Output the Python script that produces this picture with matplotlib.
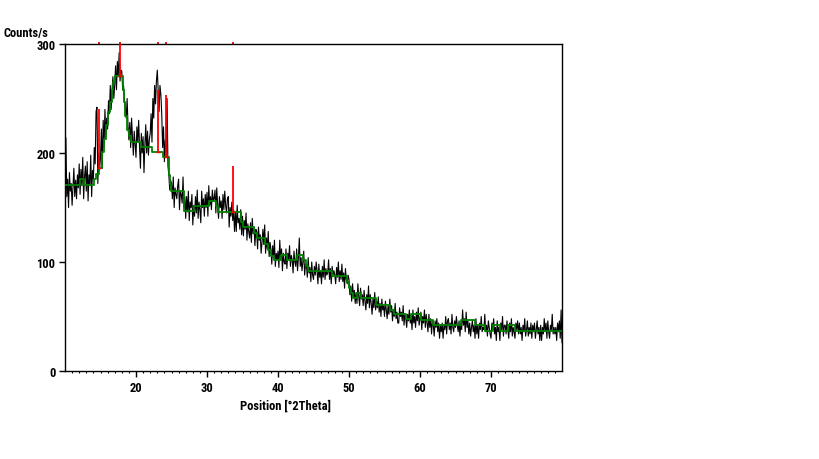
import numpy as np
import matplotlib
matplotlib.use("Agg")
import matplotlib.pyplot as plt
from matplotlib import font_manager as fm
from matplotlib.transforms import blended_transform_factory

# ---------------- data ----------------
x_start, x_step = 10.0, 0.125
counts = [
    125, 214, 160, 176, 150, 182, 165, 172,   # 10
    152, 170, 186, 160, 175, 158, 180, 168,   # 11
    190, 162, 185, 170, 196, 158, 178, 188,   # 12
    165, 192, 156, 180, 170, 198, 160, 184,   # 13
    176, 205, 190, 238, 242, 172, 200, 185,   # 14
    196, 222, 186, 230, 205, 240, 215, 232,   # 15
    222, 248, 236, 262, 240, 258, 270, 250,   # 16
    262, 280, 258, 284, 270, 292, 266, 276,   # 17
    275, 258, 262, 248, 240, 232, 250, 225,   # 18
    212, 228, 205, 232, 215, 198, 220, 208,   # 19
    196, 224, 210, 230, 205, 186, 218, 200,   # 20
    215, 182, 208, 226, 200, 220, 198, 212,   # 21
    218, 236, 210, 250, 232, 262, 245, 266,   # 22
    276, 258, 238, 262, 254, 236, 205, 224,   # 23
    192, 212, 198, 250, 188, 180, 166, 175,   # 24
    172, 158, 178, 150, 168, 162, 158, 170,   # 25
    176, 148, 165, 162, 154, 178, 150, 160,   # 26
    140, 160, 146, 165, 138, 155, 150, 162,   # 27
    134, 152, 142, 160, 145, 166, 140, 155,   # 28
    148, 136, 165, 150, 158, 142, 162, 150,   # 29
    164, 142, 170, 152, 160, 148, 166, 156,   # 30
    158, 166, 145, 168, 152, 140, 160, 150,   # 31
    156, 140, 162, 148, 165, 152, 145, 158,   # 32
    160, 132, 150, 142, 155, 138, 148, 128,   # 33
    146, 128, 152, 136, 140, 130, 148, 125,   # 34
    142, 124, 138, 130, 145, 120, 135, 128,   # 35
    122, 136, 118, 140, 126, 132, 115, 130,   # 36
    128, 112, 132, 120, 125, 108, 118, 130,   # 37
    116, 134, 108, 122, 112, 128, 105, 118,   # 38
    112, 98, 115, 104, 120, 96, 108, 102,     # 39
    110, 95, 120, 102, 112, 92, 108, 100,     # 40
    98, 112, 94, 108, 102, 115, 96, 106,      # 41
    102, 90, 110, 100, 96, 112, 92, 104,      # 42
    122, 96, 104, 92, 100, 110, 88, 98,       # 43
    98, 86, 104, 90, 95, 82, 100, 88,         # 44
    84, 96, 88, 100, 92, 80, 98, 86,          # 45
    92, 80, 96, 86, 102, 84, 94, 88,          # 46
    90, 102, 84, 94, 80, 96, 88, 92,          # 47
    88, 80, 95, 86, 100, 82, 92, 84,          # 48
    98, 82, 90, 76, 94, 84, 80, 88,           # 49
    84, 70, 78, 64, 80, 68, 74, 62,           # 50
    72, 62, 80, 68, 60, 76, 66, 70,           # 51
    60, 74, 64, 56, 70, 62, 78, 58,           # 52
    70, 62, 52, 66, 58, 72, 56, 64,           # 53
    58, 68, 54, 62, 50, 66, 56, 60,           # 54
    50, 64, 56, 48, 60, 52, 66, 54,           # 55
    60, 46, 56, 50, 62, 48, 54, 44,           # 56
    44, 58, 50, 54, 46, 60, 42, 52,           # 57
    48, 40, 52, 46, 56, 44, 50, 38,           # 58
    56, 44, 50, 40, 54, 46, 58, 42,           # 59
    48, 54, 38, 50, 44, 56, 40, 52,           # 60
    44, 36, 52, 40, 48, 34, 46, 42,           # 61
    32, 46, 40, 48, 36, 44, 30, 42,           # 62
    36, 44, 30, 42, 38, 50, 34, 46,           # 63
    48, 38, 44, 34, 52, 40, 36, 46,           # 64
    40, 50, 42, 36, 46, 32, 44, 38,           # 65
    56, 42, 48, 36, 54, 40, 46, 34,           # 66
    44, 32, 40, 46, 36, 42, 30, 48,           # 67
    34, 42, 30, 44, 38, 50, 36, 40,           # 68
    38, 52, 36, 42, 32, 46, 40, 34,           # 69
    30, 44, 38, 48, 34, 40, 28, 46,           # 70
    36, 40, 28, 44, 38, 50, 32, 42,           # 71
    42, 34, 46, 38, 30, 44, 36, 48,           # 72
    32, 40, 36, 30, 44, 38, 46, 34,           # 73
    44, 34, 40, 28, 42, 36, 48, 32,           # 74
    38, 46, 32, 40, 34, 44, 30, 42,           # 75
    36, 44, 30, 38, 46, 34, 40, 28,           # 76
    42, 28, 40, 34, 48, 36, 44, 30,           # 77
    46, 36, 30, 42, 38, 52, 34, 40,           # 78
    34, 40, 28, 44, 36, 46, 30, 56,           # 79
    26,                                       # 80
]

# background (green step line): start positions and levels
bg_x = [10.0, 12.17, 12.68, 14.08, 14.32, 14.79, 15.27, 15.5, 15.75, 16.0, 16.27, 16.55,
        16.76, 17.0, 18.17, 18.34, 18.5, 18.79, 18.97, 19.25, 20.76, 22.25, 23.8, 24.69,
        24.8, 24.93, 26.76, 28.22, 30.34, 31.27, 31.6, 34.85, 35.03, 36.68, 37.0, 38.17,
        38.55, 39.01, 39.49, 40.42, 41.22, 42.63, 43.58, 43.9, 44.28, 47.66, 49.77, 50.0,
        50.24, 50.56, 51.18, 51.65, 53.76, 55.73, 56.37, 58.09, 58.7, 60.2, 61.83, 65.83,
        67.7, 69.18, 70.28, 71.22, 72.39, 73.34, 80.0]
bg_y = [170.8, 176.3, 170.8, 176.3, 180.9, 186.4, 200.8, 213.0, 225.3, 237.5, 246.7, 257.4,
        265.1, 270.6, 257.4, 246.7, 234.4, 220.7, 216.0, 210.0, 205.4, 200.8, 196.2, 180.0,
        172.0, 165.0, 146.5, 151.5, 155.6, 151.0, 145.7, 137.0, 132.0, 127.0, 122.1, 116.5,
        111.1, 105.9, 101.9, 106.5, 101.9, 106.5, 101.9, 96.7, 91.5, 87.0, 82.0, 76.0,
        71.3, 66.8, 71.3, 66.8, 60.9, 56.3, 52.0, 47.5, 52.3, 47.1, 42.2, 47.1,
        42.2, 37.0, 42.2, 37.0, 42.2, 37.0, 37.0]

# reference peak markers (red)
peak_pos = [14.79, 17.75, 23.12, 24.2, 33.66]
peak_base = [186.4, 270.6, 200.8, 196.0, 145.7]
peak_top = [240.0, 300.0, 257.4, 253.4, 188.0]

x_ticks = [20, 30, 40, 50, 60, 70]
y_ticks = [0, 100, 200, 300]

# ---------------- fonts: bold, upright, narrow ----------------
def is_bold(f):
    w = f.weight
    return (isinstance(w, int) and w >= 600) or w in ("bold", "semibold", "demibold", "heavy")

cands = [f for f in fm.fontManager.ttflist if f.style == "normal" and is_bold(f)
         and f.stretch not in ("normal", 500)
         and ("Narrow" in f.name or "Condensed" in f.name or "Condensed" in f.fname
              or "Narrow" in f.fname)]
pref = ["Liberation Sans Narrow", "Roboto Condensed", "DejaVu Sans"]
narrow = None
for p in pref:
    for f in cands:
        if f.name == p and "Italic" not in f.fname and "Oblique" not in f.fname:
            narrow = f.fname
            break
    if narrow:
        break
if narrow is None:
    for f in cands:
        if "Italic" not in f.fname and "Oblique" not in f.fname:
            narrow = f.fname
            break
if narrow:
    fp = fm.FontProperties(fname=narrow, size=9)
else:
    fp = fm.FontProperties(family="Liberation Sans", weight="bold", size=8)

fig = plt.figure(figsize=(8.19, 4.60), dpi=100)
ax = fig.add_axes([65 / 819, 88 / 460, 497 / 819, 327 / 460])

xs = x_start + x_step * np.arange(len(counts))
ax.plot(xs, counts, color="black", lw=0.8, zorder=2)
ax.plot(bg_x, bg_y, drawstyle="steps-post", color="#008000", lw=1.3, zorder=3)
ax.vlines(peak_pos, peak_base, peak_top, colors="red", lw=1.3, zorder=4)
ax.hlines(peak_base, [p - 0.3 for p in peak_pos], [p + 0.3 for p in peak_pos],
          colors="red", lw=1.0, zorder=4)
trans = blended_transform_factory(ax.transData, ax.transAxes)
ax.vlines(peak_pos, 1.0, 1.006, colors="red", lw=1.3, transform=trans, clip_on=False)

ax.set_xlim(10, 80)
ax.set_ylim(0, 300)
ax.set_xticks(x_ticks)
ax.set_xticks(np.arange(11, 80, 1), minor=True)
ax.set_yticks(y_ticks)
ax.tick_params(axis="both", which="major", direction="out", length=4, width=1, pad=3)
ax.tick_params(axis="x", which="minor", direction="out", length=1.5, width=0.8)
for lab in ax.get_xticklabels() + ax.get_yticklabels():
    lab.set_fontproperties(fp)
for s in ax.spines.values():
    s.set_linewidth(1.0)

fig.text(4 / 819, 1 - 33 / 460, "Counts/s", fontproperties=fp, ha="left", va="center")
fig.text(285 / 819, 1 - 406 / 460, "Position [°2Theta]", fontproperties=fp,
         ha="center", va="center")

fig.savefig("out.png", dpi=100, facecolor="white")
